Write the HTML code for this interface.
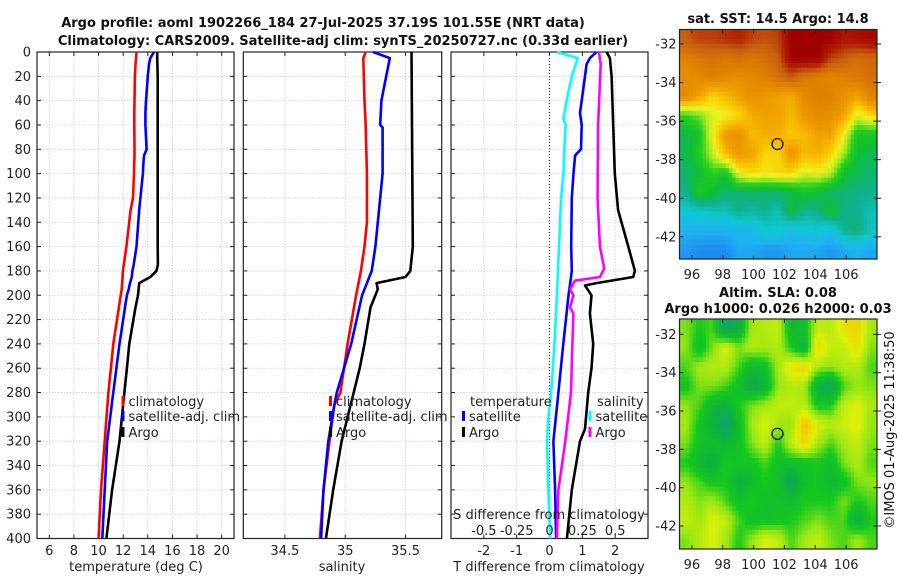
<!DOCTYPE html>
<html><head><meta charset="utf-8"><style>
html,body{margin:0;padding:0;background:#fff;width:900px;height:580px;overflow:hidden}
svg{display:block;font-family:"DejaVu Sans","Liberation Sans",sans-serif}
</style></head><body>
<svg id="fig" width="900" height="580" viewBox="0 0 900 580" xmlns="http://www.w3.org/2000/svg">
<text x="323" y="27" text-anchor="middle" font-size="13" font-weight="bold" fill="#111">Argo profile: aoml 1902266_184 27-Jul-2025 37.19S 101.55E (NRT data)</text>
<text x="343" y="45" text-anchor="middle" font-size="13" font-weight="bold" fill="#111">Climatology: CARS2009. Satellite-adj clim: synTS_20250727.nc (0.33d earlier)</text>
<text x="778" y="23" text-anchor="middle" font-size="13" font-weight="bold" fill="#111">sat. SST: 14.5 Argo: 14.8</text>
<text x="778" y="297" text-anchor="middle" font-size="13" font-weight="bold" fill="#111">Altim. SLA: 0.08</text>
<text x="778" y="313" text-anchor="middle" font-size="13" font-weight="bold" fill="#111">Argo h1000: 0.026 h2000: 0.03</text>
<text transform="translate(894,430) rotate(-90)" text-anchor="middle" font-size="13" fill="#111">©IMOS 01-Aug-2025 11:38:50</text>
<g id="layer"></g>
</svg>
<script>
// ---- data ----
const depths = [0,5,10,20,40,50,60,80,85,90,100,120,130,160,175,180,185,190,195,200,210,240,260,280,320,360,400];
const tempClim = [13.08,13.05,13.0,12.95,12.92,12.9,12.9,12.92,12.92,12.9,12.88,12.8,12.6,12.26,12.05,11.98,11.95,11.92,11.88,11.8,11.65,11.2,11.0,10.8,10.5,10.2,10.0];
const tempSat = [14.5,14.2,14.1,14.0,13.85,13.8,13.8,13.9,13.7,13.65,13.6,13.4,13.3,13.08,12.85,12.75,12.7,12.55,12.45,12.3,12.15,11.7,11.45,11.2,10.7,10.5,10.3];
const tempArgo = [14.76,14.76,14.78,14.8,14.8,14.8,14.8,14.8,14.8,14.8,14.8,14.8,14.8,14.8,14.82,14.7,14.2,13.3,13.25,13.2,13.0,12.5,12.3,12.1,11.7,11.1,10.64];
const salDepths = [0,5,40,60,62,100,140,160,180,190,200,240,280,290,320,360,400];
const salClim = [35.17,35.15,35.16,35.17,35.17,35.18,35.18,35.16,35.13,35.11,35.09,35.02,34.96,34.91,34.87,34.82,34.79];
const salSat = [35.23,35.37,35.3,35.29,35.31,35.31,35.27,35.25,35.22,35.18,35.14,35.05,34.93,34.91,34.86,34.82,34.8];
const salArgoD = [0,160,180,185,190,195,205,210,240,260,280,320,360,400];
const salArgo = [35.55,35.56,35.54,35.5,35.26,35.27,35.23,35.21,35.16,35.12,35.07,34.97,34.9,34.84];
const dtSatD = [0,5,10,40,50,60,80,85,100,120,160,180,190,200,240,280,320,360,400];
const dtSat = [1.43,1.23,1.13,0.98,0.93,0.98,0.96,0.78,0.73,0.68,0.66,0.68,0.63,0.58,0.42,0.27,0.12,0.17,0.2];
const dtArgoD = [0,5,20,60,100,130,160,180,185,190,192,200,215,240,260,280,310,320,360,400];
const dtArgo = [1.74,1.84,1.89,1.94,1.99,2.09,2.4,2.6,2.55,1.43,1.08,1.28,1.23,1.33,1.28,1.18,1.08,0.93,0.68,0.53];
const dsSatD = [0,5,20,40,55,60,65,100,120,200,240,280,300,320,360,400];
const dsSat = [0.056,0.215,0.17,0.13,0.106,0.124,0.119,0.106,0.088,0.056,0.038,0.013,-0.008,-0.02,-0.008,0.005];
const dsArgoD = [0,10,60,120,160,178,185,188,195,200,210,215,240,280,320,360,400];
const dsArgo = [0.376,0.39,0.37,0.366,0.384,0.417,0.384,0.194,0.157,0.182,0.157,0.182,0.174,0.164,0.12,0.068,0.056];
const depthTicks = [0,20,40,60,80,100,120,140,160,180,200,220,240,260,280,300,320,340,360,380,400];
const tempTicks = [6,8,10,12,14,16,18,20];
const salTicks = [34.5,35,35.5];
const dtTicks = [-2,-1,0,1,2];
const dsTicks = [-0.5,-0.25,0,0.25,0.5];
const dsTickLabels = ["-0.5","-0.25","0","0.25","0.5"];
const lonTicks = [96,98,100,102,104,106];
const latTicks = [-32,-34,-36,-38,-40,-42];
const argoLon = 101.55, argoLat = -37.19;
const sstGrid = [
[15.8,16.0,16.0,16.1,16.2,16.0,15.9,16.0,16.6,16.6,16.6,16.6,16.3,16.4,16.5],
[15.4,15.5,15.6,15.5,15.6,15.5,15.6,15.8,16.6,16.6,16.6,16.0,15.8,15.6,15.7],
[15.2,15.3,15.4,15.3,15.2,15.3,15.4,15.6,15.8,15.5,15.4,15.3,15.4,15.5,15.6],
[15.3,15.0,14.6,14.8,15.0,15.2,15.1,15.0,14.9,15.3,15.4,15.4,15.2,15.0,15.4],
[13.8,14.0,14.3,14.4,14.6,14.9,15.0,15.0,14.8,15.1,15.3,15.2,15.0,14.3,14.6],
[13.4,13.6,14.4,15.1,15.2,14.8,14.9,14.9,14.7,14.8,15.0,15.0,14.4,13.6,13.6],
[13.4,13.7,14.2,14.8,15.1,15.0,14.6,14.6,15.2,14.8,14.9,14.6,14.1,13.5,13.4],
[13.3,13.5,13.8,13.6,14.4,14.6,14.5,14.6,14.6,14.3,14.4,14.2,13.5,13.4,13.3],
[13.2,13.7,13.5,13.3,13.3,13.3,13.3,13.3,13.4,13.6,13.5,13.3,13.3,13.2,13.2],
[12.9,12.9,13.0,13.0,13.2,13.1,13.2,13.0,13.5,13.2,13.2,13.6,13.2,13.2,13.0],
[12.6,12.6,12.6,12.6,12.7,12.7,12.9,12.9,12.7,12.8,12.9,12.7,13.2,13.3,13.0],
[12.4,12.3,12.3,12.3,12.5,12.5,12.4,12.4,12.5,12.5,12.5,12.4,12.5,12.6,12.5]];
const slaGrid = [
[0.02,-0.02,0.0,-0.12,-0.08,0.04,0.05,0.06,-0.06,-0.04,0.06,0.05,0.10,0.12,0.04],
[0.03,-0.05,0.02,0.08,0.02,0.05,0.04,0.05,-0.02,-0.08,0.12,0.06,0.06,0.11,0.02],
[0.0,0.04,0.05,0.05,0.0,-0.06,-0.04,0.04,0.1,0.12,0.04,0.03,0.05,0.05,0.0],
[-0.03,0.02,0.02,0.0,-0.04,-0.10,-0.07,0.03,0.05,0.04,-0.08,-0.12,0.0,0.03,0.02],
[0.03,0.0,-0.06,-0.08,-0.02,0.02,0.04,0.06,0.06,0.05,-0.03,-0.02,0.06,0.08,0.04],
[0.04,-0.03,-0.08,-0.13,-0.05,0.04,0.08,0.04,0.03,0.14,0.08,0.05,0.07,0.09,0.03],
[0.02,-0.04,-0.04,-0.06,-0.04,0.02,0.06,-0.02,0.06,0.12,0.04,0.0,0.04,0.06,0.02],
[-0.02,-0.06,-0.09,-0.02,-0.03,-0.03,0.0,-0.04,-0.04,-0.04,-0.02,-0.05,0.02,0.05,0.0],
[0.03,0.0,-0.03,-0.02,-0.08,-0.05,-0.02,-0.04,-0.12,-0.04,-0.03,-0.06,-0.04,0.02,0.03],
[0.05,0.02,0.04,0.0,-0.04,-0.02,-0.04,-0.04,-0.05,-0.02,-0.02,-0.02,0.02,-0.02,0.0],
[0.06,0.04,0.08,0.06,0.0,-0.04,-0.04,-0.03,-0.02,0.0,0.02,0.0,0.0,-0.09,-0.02],
[0.02,0.05,0.08,0.04,-0.02,0.03,0.08,0.06,0.0,0.04,0.06,0.02,0.0,0.04,0.0]];

// ---- drawing ----
const NS="http://www.w3.org/2000/svg";
const layer=document.getElementById('layer');
function mk(tag,attrs,parent){const e=document.createElementNS(NS,tag);for(const k in attrs)e.setAttribute(k,attrs[k]);(parent||layer).appendChild(e);return e;}
const Y0=52, Y1=538.5;
const yD=d=>Y0+(d/400)*(Y1-Y0);
function panel(name,x0,x1,vmin,vmax){return {name,x0,x1,sx:v=>x0+(v-vmin)/(vmax-vmin)*(x1-x0)};}
const P1=panel('temperature',37,234,5,21);
const P2=panel('salinity',243.3,441.7,34.155,35.8);
const P3=panel('diff',451,648,-3,3);
const sxS3=v=>P3.x0+(v+0.75)/1.5*(P3.x1-P3.x0);

function drawFrame(P,ticks,labels,showY){
  const g=mk('g',{});
  
  
  depthTicks.forEach(d=>{const l=mk('line',{x1:P.x0,x2:P.x1,y1:yD(d),y2:yD(d),stroke:'#c5cbe6','stroke-width':0.8,'stroke-dasharray':'1.5,1.5'},g);
    });
  ticks.forEach((t,i)=>{const x=P.sx(t);
    const l=mk('line',{x1:x,x2:x,y1:Y0,y2:Y1,stroke:'#c5cbe6','stroke-width':0.8,'stroke-dasharray':'1.5,1.5'},g);
    
    mk('line',{x1:x,x2:x,y1:Y1,y2:Y1-4,stroke:'#222'},g);
    mk('line',{x1:x,x2:x,y1:Y0,y2:Y0+4,stroke:'#222'},g);
    const tx=mk('text',{x:x,y:555,'text-anchor':'middle','font-size':13,fill:'#222'},g);tx.textContent=labels[i];
    
  });
  depthTicks.forEach(d=>{
    mk('line',{x1:P.x0,x2:P.x0+4,y1:yD(d),y2:yD(d),stroke:'#222'},g);
    mk('line',{x1:P.x1,x2:P.x1-4,y1:yD(d),y2:yD(d),stroke:'#222'},g);
    if(showY){const tx=mk('text',{x:31,y:yD(d)+4.5,'text-anchor':'end','font-size':13,fill:'#222'},g);tx.textContent=d;
      }
  });
  const r=mk('rect',{x:P.x0,y:Y0,width:P.x1-P.x0,height:Y1-Y0,fill:'none',stroke:'#222','stroke-width':1.2},g);
  
  return g;
}
function line(ds,vs,sx,color,name,w){
  const pts=ds.map((d,i)=>sx(vs[i]).toFixed(1)+','+yD(d).toFixed(1)).join(' ');
  const p=mk('polyline',{points:pts,fill:'none',stroke:color,'stroke-width':w||2.6,'stroke-linejoin':'round'});
  
  
}
function legendItem(x,y,color,label,name){
  const r=mk('rect',{x:x,y:y-5,width:3,height:10,fill:color});
  
  const t=mk('text',{x:x+7,y:y+5,'font-size':13,fill:'#222'});t.textContent=label;
  
}
function xlabel(x,txt,name){const t=mk('text',{x:x,y:571,'text-anchor':'middle','font-size':13,fill:'#222'});t.textContent=txt;
  }

drawFrame(P1,tempTicks,tempTicks.map(String),true);
line(depths,tempClim,P1.sx,'#f00','temp-climatology-line');
line(depths,tempSat,P1.sx,'#00f','temp-satellite-adj-line');
line(depths,tempArgo,P1.sx,'#000','temp-argo-line');
legendItem(121.5,401,'#f00','climatology','legend-climatology');
legendItem(121.5,416,'#00f','satellite-adj. clim','legend-satellite-adj');
legendItem(121.5,432,'#000','Argo','legend-argo');
xlabel(136,'temperature (deg C)','temperature-axis-title');

drawFrame(P2,salTicks,["34.5","35","35.5"],false);
line(salDepths,salClim,P2.sx,'#f00','sal-climatology-line');
line(salDepths,salSat,P2.sx,'#00f','sal-satellite-adj-line');
line(salArgoD,salArgo,P2.sx,'#000','sal-argo-line');
legendItem(329,401,'#f00','climatology','legend-climatology-sal');
legendItem(329,416,'#00f','satellite-adj. clim','legend-satellite-adj-sal');
legendItem(329,432,'#000','Argo','legend-argo-sal');
xlabel(342,'salinity','salinity-axis-title');

drawFrame(P3,dtTicks,dtTicks.map(String),false);
{const l=mk('line',{x1:P3.sx(0),x2:P3.sx(0),y1:Y0,y2:Y1,stroke:'#333','stroke-width':1,'stroke-dasharray':'1,2'});
 }
line(dsSatD,dsSat,sxS3,'#0ff','sal-diff-satellite-line');
line(dtSatD,dtSat,P3.sx,'#00f','temp-diff-satellite-line');
line(dsArgoD,dsArgo,sxS3,'#f0f','sal-diff-argo-line');
line(dtArgoD,dtArgo,P3.sx,'#000','temp-diff-argo-line');
{const t=mk('text',{x:470,y:406,'font-size':13,fill:'#222'});t.textContent='temperature';}
legendItem(462,416,'#00f','satellite','legend-temp-satellite');
legendItem(462,432,'#000','Argo','legend-temp-argo');
{const t=mk('text',{x:597,y:406,'font-size':13,fill:'#222'});t.textContent='salinity';}
legendItem(588.5,416,'#0ff','satellite','legend-sal-satellite');
legendItem(588.5,432,'#f0f','Argo','legend-sal-argo');
{const t=mk('text',{x:549,y:519,'text-anchor':'middle','font-size':13,fill:'#222'});t.textContent='S difference from climatology';}
dsTicks.forEach((v,i)=>{const t=mk('text',{x:sxS3(v),y:535,'text-anchor':'middle','font-size':13,fill:'#222'});t.textContent=dsTickLabels[i];
  });
xlabel(549,'T difference from climatology','t-diff-axis-title');

// ---- maps ----
function lerpColor(stops,v){
  if(v<=stops[0][0])return stops[0][1];
  for(let i=1;i<stops.length;i++){if(v<=stops[i][0]){const a=stops[i-1],b=stops[i],t=(v-a[0])/(b[0]-a[0]);
    return a[1].map((x,j)=>Math.round(x+(b[1][j]-x)*t));}}
  return stops[stops.length-1][1];
}
function sample(grid,fr,fc){
  const R=grid.length,C=grid[0].length;
  fr=Math.max(0,Math.min(R-1,fr));fc=Math.max(0,Math.min(C-1,fc));
  const r0=Math.floor(fr),c0=Math.floor(fc),r1=Math.min(R-1,r0+1),c1=Math.min(C-1,c0+1),tr=fr-r0,tc=fc-c0;
  const a=grid[r0][c0]*(1-tc)+grid[r0][c1]*tc, b=grid[r1][c0]*(1-tc)+grid[r1][c1]*tc;
  return a*(1-tr)+b*tr;
}
const sstStops=[[12.3,[30,140,240]],[12.6,[30,180,240]],[12.9,[16,200,208]],[13.2,[16,176,140]],[13.5,[16,190,50]],[13.8,[40,208,30]],[14.1,[160,232,32]],[14.4,[240,240,32]],[14.7,[248,200,0]],[15.0,[240,160,0]],[15.4,[224,128,0]],[15.8,[200,96,16]],[16.2,[176,32,0]],[16.6,[160,0,0]]];
const slaStops=[[-0.14,[16,160,128]],[-0.08,[16,176,64]],[-0.02,[20,200,30]],[0.03,[150,230,20]],[0.08,[220,240,10]],[0.12,[240,210,0]],[0.15,[240,170,0]]];
function map(name,grid,stops,x0,y0,x1,y1,latTop,latBot){
  const g=mk('g',{});
  const lonL=95.2, lonR=108.0;
  const sx=lo=>x0+(lo-lonL)/(lonR-lonL)*(x1-x0);
  const sy=la=>y0+(latTop-la)/(latTop-latBot)*(y1-y0);
  const rows=grid.length, cols=grid[0].length, up=4;
  const nr=rows*up, nc=cols*up, cw=(x1-x0)/nc, ch=(y1-y0)/nr;
  for(let r=0;r<nr;r++)for(let c=0;c<nc;c++){
    const v=sample(grid,(r+0.5)/up-0.5,(c+0.5)/up-0.5);
    const col=lerpColor(stops,v);
    const e=mk('rect',{x:(x0+c*cw).toFixed(2),y:(y0+r*ch).toFixed(2),width:(cw+0.5).toFixed(2),height:(ch+0.5).toFixed(2),fill:'rgb('+col.join(',')+')'},g);
    
  }
  mk('rect',{x:x0,y:y0,width:x1-x0,height:y1-y0,fill:'none',stroke:'#222','stroke-width':1.2},g);
  lonTicks.forEach(lo=>{const x=sx(lo);mk('line',{x1:x,x2:x,y1:y1,y2:y1-4,stroke:'#222'},g);mk('line',{x1:x,x2:x,y1:y0,y2:y0+4,stroke:'#222'},g);
    const t=mk('text',{x:x,y:y1+20,'text-anchor':'middle','font-size':13,fill:'#222'},g);t.textContent=lo;
    });
  latTicks.forEach(la=>{const y=sy(la);mk('line',{x1:x1,x2:x1-4,y1:y,y2:y,stroke:'#222'},g);mk('line',{x1:x0,x2:x0+4,y1:y,y2:y,stroke:'#222'},g);
    mk('line',{x1:x1,x2:x1+4,y1:y,y2:y,stroke:'#222'},g);
    const t=mk('text',{x:x0-3,y:y+4.5,'text-anchor':'end','font-size':13,fill:'#222'},g);t.textContent=la;
    });
  const m=mk('ellipse',{cx:sx(argoLon),cy:sy(argoLat),rx:5.5,ry:5.5,fill:'none',stroke:'#000','stroke-width':1.2},g);
  
}
map('sst-map',sstGrid,sstStops,679.5,29.5,877,259,-31.25,-43.15);
map('sla-map',slaGrid,slaStops,679.5,319,877,549,-31.2,-43.2);
</script>
</body></html>
